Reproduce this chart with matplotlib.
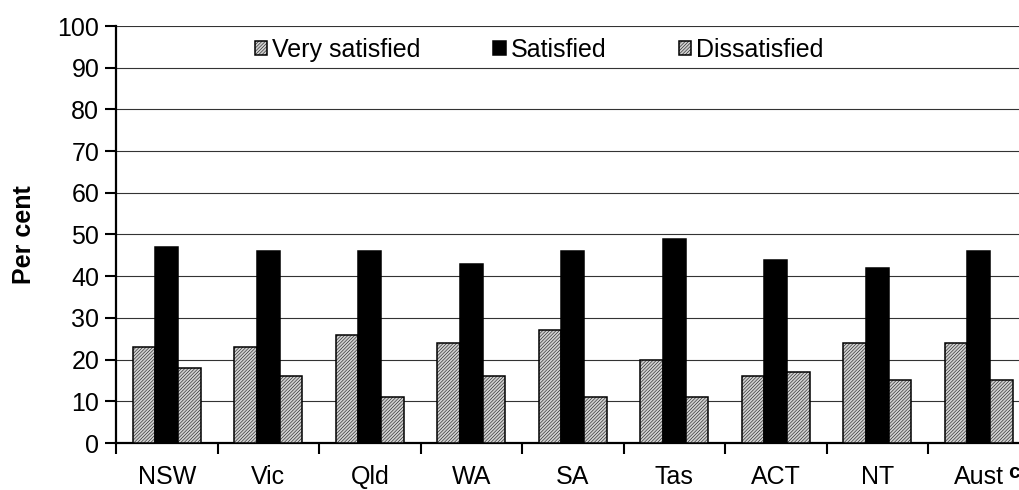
import numpy as np
import matplotlib
matplotlib.use("Agg")
import matplotlib.pyplot as plt

plt.rcParams['font.family'] = ['Liberation Sans', 'DejaVu Sans']
plt.rcParams['hatch.color'] = '#a6a6a6'
plt.rcParams['hatch.linewidth'] = 0.35

states = ['NSW', 'Vic', 'Qld', 'WA', 'SA', 'Tas', 'ACT', 'NT', 'Aust']
very_satisfied = [23, 23, 26, 24, 27, 20, 16, 24, 24]
satisfied = [47, 46, 46, 43, 46, 49, 44, 42, 46]
dissatisfied = [18, 16, 11, 16, 11, 11, 17, 15, 15]

W, H = 1019, 490
fig = plt.figure(figsize=(W / 100, H / 100), dpi=100)
# axes runs a bit past the right edge, like the original
ax = fig.add_axes([116 / W, (H - 443) / H, 913.5 / W, (443 - 26) / H])

x = np.arange(len(states)) + 0.5
bw = 0.223
edge = dict(edgecolor='black', linewidth=1.1, zorder=3)
ax.bar(x - bw, very_satisfied, bw, facecolor='#d0d0d0', hatch='//////////',
       label='Very satisfied', **edge)
ax.bar(x, satisfied, bw, facecolor='black', label='Satisfied', **edge)
ax.bar(x + bw, dissatisfied, bw, facecolor='#d0d0d0', hatch='//////////',
       label='Dissatisfied', **edge)

ax.set_xlim(0, len(states))
ax.set_ylim(0, 100)
ax.set_yticks(range(0, 101, 10))
ax.yaxis.grid(True, color='#333333', linewidth=0.8)
ax.set_axisbelow(True)

ax.set_xticks(range(0, len(states) + 1))
ax.set_xticklabels([])
ax.set_xticks(x, minor=True)
ax.set_xticklabels(states, minor=True)
ax.tick_params(axis='x', which='major', direction='out', length=8, width=1.5)
ax.tick_params(axis='x', which='minor', length=0, pad=16, labelsize=18)
ax.tick_params(axis='y', direction='out', length=8, width=1.5, labelsize=18, pad=4)

for s in ['top', 'right']:
    ax.spines[s].set_visible(False)
ax.spines['left'].set_linewidth(1.6)
ax.spines['bottom'].set_linewidth(1.6)

ax.set_ylabel('Per cent', fontsize=18, fontweight='bold')
ax.yaxis.set_label_coords(-(116 - 36) / 913.5, 0.5)

# superscript note next to "Aust"
fig.text(1008 / W, 1 - 463 / H, 'c', fontsize=15, fontweight='bold',
         ha='left', va='top')

ax.legend(loc='center left', bbox_to_anchor=(0.141, 0.943), ncol=3,
          frameon=False, fontsize=18, handlelength=0.5, handleheight=0.5,
          handletextpad=0.2, columnspacing=2.9, borderaxespad=0)

fig.savefig('out.png', dpi=100)
